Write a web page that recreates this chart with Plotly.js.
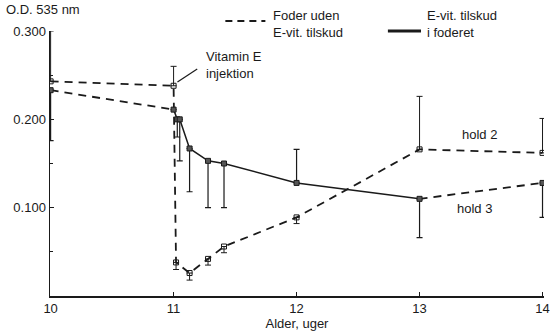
<!DOCTYPE html>
<html>
<head>
<meta charset="utf-8">
<script src="https://cdn.plot.ly/plotly-3.0.1.min.js"></script>
<style>html,body{margin:0;padding:0;background:#fff;}#chart{width:550px;height:331px;}</style>
</head>
<body>
<div id="chart"></div>
<script>
// Hold 2: feed without vitamin E (dashed, open squares), vitamin E injection at week 11
const hold2Weeks = [10, 11, 11.02, 11.13, 11.28, 11.41, 12, 13, 14];
const hold2OD    = [0.243, 0.238, 0.038, 0.026, 0.042, 0.056, 0.089, 0.166, 0.162];
const hold2ErrUp = [0.057, 0.022, 0, 0, 0, 0, 0, 0.060, 0.039];
const hold2ErrDn = [0, 0, 0.008, 0.008, 0.007, 0.007, 0.007, 0, 0];

// Hold 3: vitamin E in feed between week 11 and 13 (solid), otherwise dashed
const hold3Weeks = [10, 11, 11.03, 11.05, 11.13, 11.28, 11.41, 12, 13, 14];
const hold3OD    = [0.233, 0.211, 0.200, 0.200, 0.167, 0.153, 0.150, 0.128, 0.110, 0.128];
const hold3ErrUp = [0, 0, 0, 0, 0, 0, 0, 0.038, 0, 0];
const hold3ErrDn = [0.057, 0, 0.020, 0.047, 0.049, 0.053, 0.050, 0, 0.044, 0.039];

const xTicks = [10, 11, 12, 13, 14];
const yTicks = [0.1, 0.2, 0.3];
const yTickText = ['0.100', '0.200', '0.300'];
const yMinor = [0.05, 0.15, 0.25];

const ink = '#1a1a1a';
const dashPat = '8px,6px';
const FONT = 'Liberation Sans, Arial, sans-serif';

function seg(i0, i1, dash, w) {
  return {
    x: hold3Weeks.slice(i0, i1 + 1), y: hold3OD.slice(i0, i1 + 1),
    mode: 'lines', type: 'scatter', hoverinfo: 'skip', showlegend: false,
    line: {color: ink, width: w, dash: dash}
  };
}

const traces = [
  {
    x: hold2Weeks, y: hold2OD, type: 'scatter', mode: 'lines+markers', showlegend: false,
    line: {color: ink, width: 1.8, dash: dashPat},
    marker: {symbol: 'square-open', size: 5, color: ink, line: {width: 1, color: ink}},
    error_y: {type: 'data', symmetric: false, array: hold2ErrUp, arrayminus: hold2ErrDn,
              color: ink, thickness: 1, width: 3}
  },
  seg(0, 1, dashPat, 1.8),
  seg(1, 8, 'solid', 1.5),
  seg(8, 9, dashPat, 1.8),
  {
    x: hold3Weeks, y: hold3OD, type: 'scatter', mode: 'markers', showlegend: false,
    marker: {symbol: 'square', size: 5, color: '#555', line: {width: 1, color: ink}},
    error_y: {type: 'data', symmetric: false, array: hold3ErrUp, arrayminus: hold3ErrDn,
              color: ink, thickness: 1.2, width: 3}
  }
];

const layout = {
  width: 550, height: 331,
  margin: {l: 50, r: 6, t: 31, b: 35},
  paper_bgcolor: '#fff', plot_bgcolor: '#fff',
  font: {family: FONT, size: 13, color: ink},
  showlegend: false,
  xaxis: {
    range: [9.995, 14.012], tickvals: xTicks, ticktext: xTicks.map(String),
    showgrid: false, zeroline: false, showline: true, linecolor: ink, linewidth: 1.5,
    ticks: 'inside', ticklen: 4, tickcolor: ink, ticklabeloverflow: 'allow',
    tickfont: {size: 13, family: FONT, color: ink},
    title: {text: 'Alder, uger', font: {size: 13, family: FONT, color: ink}, standoff: 5},
    automargin: false
  },
  yaxis: {
    range: [0, 0.3], tickvals: yTicks, ticktext: yTickText,
    showgrid: false, zeroline: false, showline: true, linecolor: ink, linewidth: 1.5,
    ticks: 'inside', ticklen: 4, tickcolor: ink,
    tickfont: {size: 13, family: FONT, color: ink},
    minor: {tickvals: yMinor, ticks: 'inside', ticklen: 3, tickcolor: ink, showgrid: false},
    automargin: false
  },
  shapes: [
    {type: 'line', xref: 'paper', yref: 'paper', x0: 0.355, x1: 0.436, y0: 1.038, y1: 1.038,
     line: {color: ink, width: 2, dash: '7px,5px'}},
    {type: 'line', xref: 'paper', yref: 'paper', x0: 0.684, x1: 0.751, y0: 1.0, y1: 1.0,
     line: {color: ink, width: 3}},
    {type: 'line', xref: 'paper', yref: 'paper', x0: 0.258, x1: 0.298, y0: 0.808, y1: 0.857,
     line: {color: ink, width: 1.2}}
  ],
  annotations: [
    {text: 'O.D. 535 nm', xref: 'paper', yref: 'paper', x: -0.093, y: 1.08,
     xanchor: 'left', yanchor: 'middle', showarrow: false},
    {text: 'Foder uden<br>E-vit. tilskud', xref: 'paper', yref: 'paper', x: 0.448, y: 1.028,
     xanchor: 'left', yanchor: 'middle', align: 'left', showarrow: false},
    {text: 'E-vit. tilskud<br>i foderet', xref: 'paper', yref: 'paper', x: 0.759, y: 1.026,
     xanchor: 'left', yanchor: 'middle', align: 'left', showarrow: false},
    {text: 'Vitamin E<br>injektion', xref: 'paper', yref: 'paper', x: 0.312, y: 0.870,
     xanchor: 'left', yanchor: 'middle', align: 'left', showarrow: false},
    {text: 'hold 2', xref: 'paper', yref: 'paper', x: 0.830, y: 0.608,
     xanchor: 'left', yanchor: 'middle', showarrow: false},
    {text: 'hold 3', xref: 'paper', yref: 'paper', x: 0.820, y: 0.332,
     xanchor: 'left', yanchor: 'middle', showarrow: false}
  ]
};

Plotly.newPlot('chart', traces, layout, {displayModeBar: false, staticPlot: true});
</script>
</body>
</html>
